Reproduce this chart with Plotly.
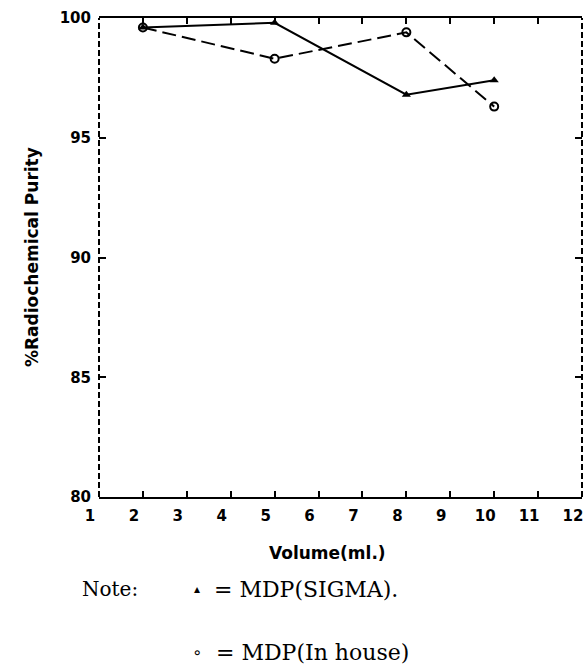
import plotly.graph_objects as go

# Data
volume = [2, 5, 8, 10]
sigma_purity = [99.6, 99.8, 96.8, 97.4]
inhouse_purity = [99.6, 98.3, 99.4, 96.3]

x_ticks = list(range(1, 13))
y_ticks = [80, 85, 90, 95, 100]

W, H = 586, 670
L, R, T, B = 99, 4, 18, 173
pw, ph = W - L - R, H - T - B

def px(xp):
    return (xp - L) / pw

def py(yp):
    return (H - B - yp) / ph

fig = go.Figure()

fig.add_trace(go.Scatter(
    x=volume, y=sigma_purity, mode="lines+markers", name="MDP(SIGMA)",
    line=dict(color="black", width=2),
    marker=dict(symbol="triangle-up", size=8, color="black"),
    showlegend=False,
))
fig.add_trace(go.Scatter(
    x=volume, y=inhouse_purity, mode="lines+markers", name="MDP(In house)",
    line=dict(color="black", width=2, dash="14px,6px"),
    marker=dict(symbol="circle-open", size=8, color="black", line=dict(width=2)),
    showlegend=False,
))

tickfont = dict(family="DejaVu Sans", size=15, color="black", weight="bold")

fig.update_xaxes(
    range=[1, 12], tickvals=x_ticks, ticktext=[str(v) for v in x_ticks],
    ticks="inside", ticklen=6, tickwidth=1.5, tickcolor="black",
    showline=True, linecolor="black", linewidth=2, mirror="ticks",
    showgrid=False, zeroline=False, tickfont=tickfont,
    ticklabelshift=-9, ticklabelstandoff=4,
)
fig.update_yaxes(
    range=[80, 100], tickvals=y_ticks, ticktext=[str(v) for v in y_ticks],
    ticks="inside", ticklen=7, tickwidth=1.5, tickcolor="black",
    showline=False, mirror="ticks",
    showgrid=False, zeroline=False, tickfont=tickfont,
    ticklabelstandoff=7,
)

# dashed left/right frame lines, as in the scanned original
for xd in (0, 1):
    fig.add_shape(type="line", xref="x domain", yref="y domain",
                  x0=xd, x1=xd, y0=0, y1=1,
                  line=dict(color="black", width=2, dash="6px,3px"))

serif_note = dict(family="DejaVu Serif", size=20, color="black")
serif = dict(family="DejaVu Serif", size=22, color="black")
ann = [
    dict(text="%Radiochemical Purity", x=px(32), y=py(257), textangle=-90,
         font=dict(family="DejaVu Sans", size=17, color="black", weight="bold"),
         xanchor="center", yanchor="middle"),
    dict(text="Volume(ml.)", x=px(327), y=py(553),
         font=dict(family="DejaVu Sans", size=17, color="black", weight="bold"),
         xanchor="center", yanchor="middle"),
    dict(text="Note:", x=px(80), y=py(589), font=serif_note, xanchor="left", yanchor="middle"),
    dict(text="▴", x=px(197), y=py(589), font=dict(family="DejaVu Sans", size=12, color="black"),
         xanchor="center", yanchor="middle"),
    dict(text="= MDP(SIGMA).", x=px(212), y=py(589), font=serif, xanchor="left", yanchor="middle"),
    dict(text="∘", x=px(197), y=py(652), font=dict(family="DejaVu Sans", size=16, color="black"),
         xanchor="center", yanchor="middle"),
    dict(text="= MDP(In house)", x=px(214), y=py(652), font=serif, xanchor="left", yanchor="middle"),
]
for a in ann:
    a.update(xref="paper", yref="paper", showarrow=False)
fig.update_layout(annotations=ann)

fig.update_layout(
    width=W, height=H,
    margin=dict(l=L, r=R, t=T, b=B),
    paper_bgcolor="white", plot_bgcolor="white",
)

fig.write_html("out.html")
